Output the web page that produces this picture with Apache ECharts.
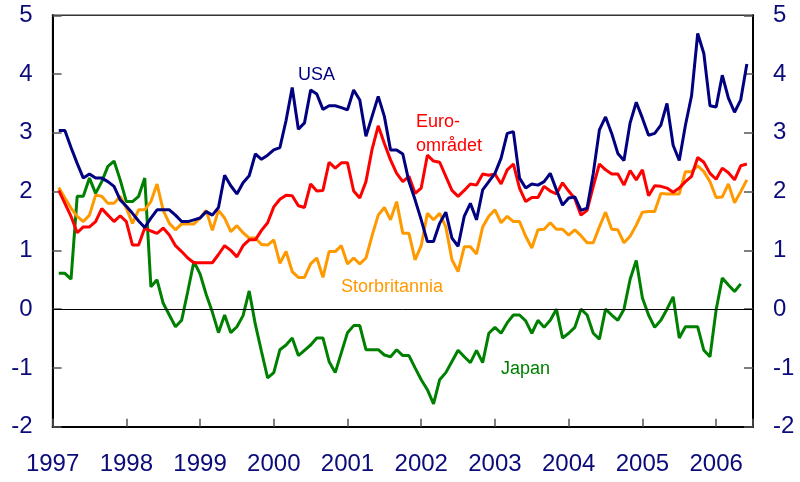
<!DOCTYPE html>
<html>
<head>
<meta charset="utf-8">
<script src="https://cdn.jsdelivr.net/npm/echarts@6/dist/echarts.min.js"></script>
<style>
html,body{margin:0;padding:0;background:#fff;}
#chart{width:800px;height:482px;}
</style>
</head>
<body>
<div id="chart"></div>
<script>
// Monthly observations, first value = first month after Jan 1997 tick
const startYear = 1997;
const yearTicks = ['1997','1998','1999','2000','2001','2002','2003','2004','2005','2006'];
const seriesNames = ['USA', 'Euroområdet', 'Storbritannia', 'Japan'];

const usa = [3.04,3.04,2.75,2.48,2.23,2.30,2.23,2.23,2.17,2.09,1.86,1.75,1.63,1.50,1.39,1.55,1.69,1.69,1.69,1.60,
1.49,1.49,1.52,1.55,1.66,1.60,1.73,2.28,2.10,1.96,2.15,2.27,2.64,2.55,2.62,2.71,2.75,3.21,3.77,3.06,
3.17,3.73,3.66,3.40,3.46,3.46,3.43,3.39,3.73,3.56,2.94,3.28,3.62,3.28,2.71,2.71,2.64,2.17,1.86,1.52,
1.15,1.15,1.46,1.65,1.21,1.07,1.58,1.80,1.52,2.03,2.17,2.31,2.57,2.99,3.02,2.23,2.06,2.13,2.11,2.17,
2.31,2.03,1.77,1.89,1.91,1.68,1.72,2.31,3.05,3.27,2.99,2.65,2.53,3.17,3.52,3.25,2.96,2.99,3.13,3.50,
2.79,2.53,3.13,3.63,4.69,4.35,3.46,3.44,3.98,3.59,3.35,3.56,4.17];

const euro = [2.02,1.80,1.58,1.30,1.40,1.40,1.49,1.71,1.60,1.49,1.59,1.49,1.09,1.09,1.38,1.33,1.29,1.38,1.26,1.08,
0.98,0.87,0.79,0.79,0.79,0.79,0.93,1.08,1.00,0.89,1.08,1.18,1.18,1.34,1.47,1.74,1.87,1.94,1.93,1.76,
1.73,2.13,2.01,2.02,2.50,2.40,2.49,2.49,2.01,1.89,2.17,2.72,3.12,2.82,2.54,2.31,2.17,2.26,1.97,2.06,
2.62,2.52,2.50,2.26,2.02,1.92,2.02,2.13,2.11,2.30,2.28,2.30,2.13,2.37,2.47,2.06,1.83,1.90,1.90,2.09,
2.01,1.96,2.15,2.01,1.88,1.60,1.68,2.09,2.47,2.37,2.30,2.30,2.11,2.36,2.20,2.37,1.93,2.10,2.09,2.06,
1.99,2.06,2.17,2.26,2.58,2.50,2.31,2.21,2.40,2.32,2.20,2.44,2.47];

const uk = [2.07,1.89,1.72,1.58,1.49,1.60,1.94,1.92,1.80,1.80,1.92,1.72,1.46,1.69,1.69,1.83,2.13,1.68,1.46,1.35,
1.45,1.45,1.45,1.55,1.68,1.34,1.68,1.55,1.32,1.42,1.30,1.21,1.21,1.10,1.09,1.18,0.78,0.98,0.64,0.54,
0.54,0.77,0.87,0.54,0.98,0.98,1.08,0.77,0.87,0.77,0.87,1.25,1.60,1.73,1.52,1.83,1.29,1.29,0.84,1.08,
1.63,1.52,1.63,1.40,0.84,0.64,1.06,1.06,0.94,1.40,1.58,1.69,1.47,1.58,1.49,1.49,1.24,1.04,1.35,1.36,
1.47,1.36,1.36,1.26,1.35,1.25,1.13,1.13,1.40,1.65,1.36,1.35,1.13,1.24,1.43,1.65,1.66,1.66,1.97,1.96,
1.96,1.96,2.34,2.34,2.44,2.34,2.17,1.90,1.91,2.13,1.81,2.00,2.20];

const japan = [0.61,0.61,0.51,1.92,1.92,2.23,1.97,2.17,2.43,2.52,2.20,1.83,1.83,1.92,2.23,0.38,0.50,0.10,-0.10,-0.30,
-0.19,0.30,0.81,0.60,0.25,-0.05,-0.40,-0.10,-0.40,-0.30,-0.11,0.31,-0.26,-0.72,-1.17,-1.08,-0.69,-0.61,-0.49,-0.79,
-0.70,-0.61,-0.49,-0.49,-0.89,-1.08,-0.74,-0.40,-0.28,-0.28,-0.69,-0.69,-0.69,-0.78,-0.81,-0.69,-0.79,-0.79,-1.00,-1.20,
-1.37,-1.61,-1.20,-1.08,-0.89,-0.70,-0.81,-0.91,-0.70,-0.91,-0.41,-0.31,-0.41,-0.23,-0.10,-0.10,-0.20,-0.41,-0.19,-0.31,
-0.19,0.00,-0.49,-0.41,-0.31,0.00,-0.10,-0.41,-0.51,0.00,-0.10,-0.19,0.00,0.51,0.83,0.19,-0.10,-0.31,-0.19,0.00,
0.21,-0.49,-0.30,-0.30,-0.30,-0.70,-0.81,-0.01,0.53,0.41,0.30,0.43];

const yTicks = [-2,-1,0,1,2,3,4,5];

const navy = '#0b0b7a';
const font = 'Liberation Sans, Arial, sans-serif';
const toPairs = arr => arr.map((v, i) => [i + 1, v]);

const chart = echarts.init(document.getElementById('chart'), null, {renderer: 'canvas'});

const yAxisCommon = {
  type: 'value', min: yTicks[0], max: yTicks[yTicks.length - 1], interval: 1,
  axisLine: {show: true, onZero: false, lineStyle: {color: '#000', width: 2}},
  axisTick: {show: true, inside: true, length: 9, lineStyle: {color: '#555', width: 1.5}},
  axisLabel: {color: navy, fontSize: 24, fontFamily: font, margin: 20},
  splitLine: {show: false}
};

chart.setOption({
  animation: false,
  backgroundColor: '#fff',
  grid: {left: 52.6, right: 47, top: 15.3, bottom: 55.3, show: true, borderColor: '#333', borderWidth: 1.5},
  xAxis: {
    type: 'value', min: 0, max: 114, interval: 12,
    axisLine: {show: true, onZero: false, lineStyle: {color: '#000', width: 2}},
    axisTick: {show: true, inside: true, length: 8, lineStyle: {color: '#555', width: 1.5}},
    axisLabel: {
      color: navy, fontSize: 24, fontFamily: font, margin: 26, showMinLabel: true, showMaxLabel: true,
      formatter: v => (v % 12 === 0 ? yearTicks[v / 12] || '' : '')
    },
    splitLine: {show: false}
  },
  yAxis: [
    Object.assign({position: 'left'}, yAxisCommon),
    Object.assign({position: 'right'}, yAxisCommon)
  ],
  series: [
    {name: seriesNames[0], type: 'line', data: toPairs(usa), showSymbol: false, lineStyle: {color: '#000080', width: 3}, z: 4,
     markLine: {silent: true, symbol: 'none', label: {show: false}, lineStyle: {color: '#000', width: 1, type: 'solid'}, data: [{yAxis: 0}]}},
    {name: seriesNames[1], type: 'line', data: toPairs(euro), showSymbol: false, lineStyle: {color: '#ff0000', width: 3}, z: 3},
    {name: seriesNames[2], type: 'line', data: toPairs(uk), showSymbol: false, lineStyle: {color: '#ff9900', width: 3}, z: 2},
    {name: seriesNames[3], type: 'line', data: toPairs(japan), showSymbol: false, lineStyle: {color: '#008000', width: 3}, z: 1}
  ],
  graphic: [
    {type: 'text', left: 298, top: 66, style: {text: 'USA', fill: '#000080', font: '18px ' + font}},
    {type: 'text', left: 416, top: 110, style: {text: 'Euro-\nområdet', fill: '#ff0000', font: '18px ' + font, lineHeight: 24}},
    {type: 'text', left: 341, top: 278, style: {text: 'Storbritannia', fill: '#ff9900', font: '18px ' + font}},
    {type: 'text', left: 501, top: 360, style: {text: 'Japan', fill: '#008000', font: '18px ' + font}}
  ]
});
</script>
</body>
</html>
